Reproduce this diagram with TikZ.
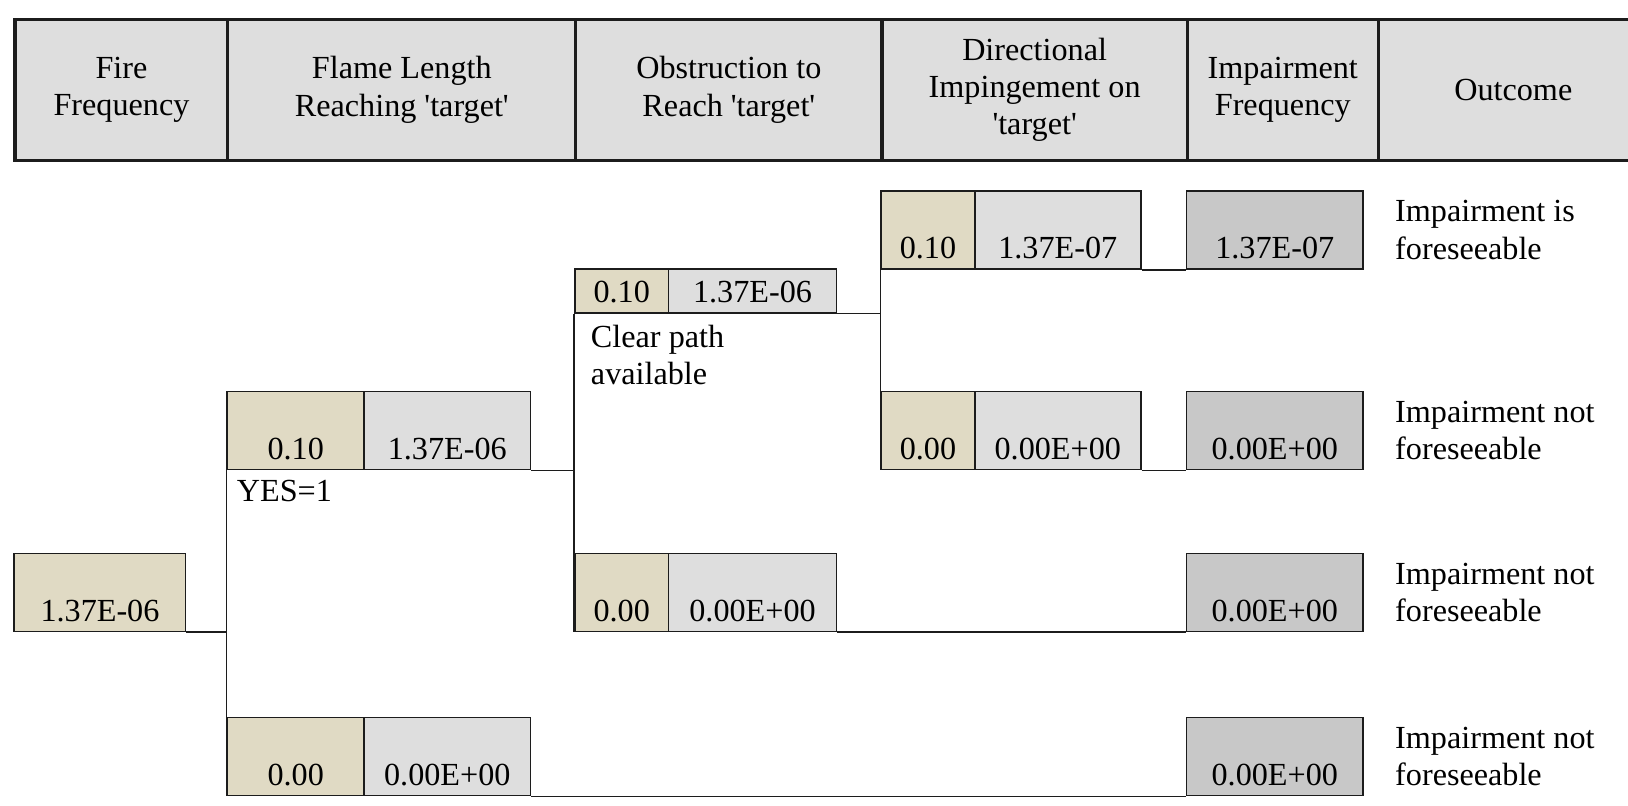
\documentclass[tikz,border=0pt]{standalone}
\usepackage{fontspec}
\setmainfont{Liberation Serif}
\usetikzlibrary{positioning}
\definecolor{tanfill}{HTML}{E0DAC4}
\definecolor{lightfill}{HTML}{DEDEDE}
\definecolor{impfill}{HTML}{C8C8C8}
\definecolor{ink}{HTML}{1C1C1C}
\newcommand{\sq}{\textquotesingle}
\tikzset{
  bigfont/.style={font=\fontsize{31}{36}\selectfont},
  hdr/.style={bigfont, draw=ink, line width=3pt, fill=lightfill, minimum height=136pt, inner sep=0pt, align=center, anchor=north west},
  cell/.style={bigfont, draw=ink, line width=1.6pt, inner sep=0pt, text height=65pt, text depth=10pt, anchor=south west},
  pbox/.style={cell, fill=tanfill, minimum width=90pt},
  fbox/.style={cell, fill=lightfill, minimum width=160pt},
  ibox/.style={cell, fill=impfill, minimum width=170pt},
  lbl/.style={bigfont, inner sep=0pt, align=left, anchor=north west},
  outc/.style={bigfont, inner sep=0pt, align=left},
  branch/.style={draw=ink, line width=1.6pt}
}
\begin{document}
\begin{tikzpicture}[x=1pt,y=-1pt]
\useasboundingbox (0,0) rectangle (1568,776);
% header row
\node[hdr, minimum width=205pt] (h1) at (13,17) {Fire\\Frequency};
\node[hdr, minimum width=335pt] (h2) at (218,17) {Flame Length\\Reaching \sq target\sq};
\node[hdr, minimum width=295pt] (h3) at (553,17) {Obstruction to\\Reach \sq target\sq};
\node[hdr, minimum width=294pt] (h4) at (848,17) {Directional\\Impingement on\\\sq target\sq};
\node[hdr, minimum width=184pt] (h5) at (1142,17) {Impairment\\Frequency};
\node[hdr, minimum width=260pt] (h6) at (1326,17) {Outcome};
% fire frequency
\node[pbox, minimum width=165pt] (fire) at (13,609) {1.37E-06};
% flame length
\node[pbox, minimum width=132pt] (yes) at (218,453) {0.10};
\node[fbox] (yesf) at (350,453) {1.37E-06};
\node[pbox, minimum width=132pt] (no) at (218,767) {0.00};
\node[fbox] (nof) at (350,767) {0.00E+00};
% obstruction
\node[pbox, text height=32pt] (clr) at (553,302) {0.10};
\node[fbox, minimum width=162pt, text height=32pt] (clrf) at (643,302) {1.37E-06};
\node[pbox] (obs) at (553,609) {0.00};
\node[fbox, minimum width=162pt] (obsf) at (643,609) {0.00E+00};
% directional impingement
\node[pbox] (dirt) at (848,260) {0.10};
\node[fbox] (dirtf) at (938,260) {1.37E-07};
\node[pbox] (dirb) at (848,453) {0.00};
\node[fbox] (dirbf) at (938,453) {0.00E+00};
% impairment frequency
\node[ibox] (imp1) at (1142,260) {1.37E-07};
\node[ibox] (imp2) at (1142,453) {0.00E+00};
\node[ibox] (imp3) at (1142,609) {0.00E+00};
\node[ibox] (imp4) at (1142,767) {0.00E+00};
% outcomes
\node[outc, right=30pt of imp1] (out1) {Impairment is\\foreseeable};
\node[outc, right=30pt of imp2] (out2) {Impairment not\\foreseeable};
\node[outc, right=30pt of imp3] (out3) {Impairment not\\foreseeable};
\node[outc, right=30pt of imp4] (out4) {Impairment not\\foreseeable};
% branch labels
\node[lbl] (yeslbl) at ([xshift=10pt,yshift=-9pt]yes.south west) {YES=1};
\node[lbl] (clrlbl) at ([xshift=16pt,yshift=-11pt]clr.south west) {Clear path\\available};
% branches
\draw[branch] (fire.south east) -- (fire.south east -| yes.south west);
\draw[branch] (yes.south west) -- (no.south west);
\draw[branch] (yesf.south east) -- (yesf.south east -| clr.south west);
\draw[branch] (nof.south east) -- (imp4.south west);
\draw[branch] (clr.south west) -- (obs.south west);
\draw[branch] (clrf.south east) -- (clrf.south east -| dirt.south west);
\draw[branch] (obsf.south east) -- (imp3.south west);
\draw[branch] (dirt.south west) -- (dirb.south west);
\draw[branch] (dirtf.south east) -- (imp1.south west);
\draw[branch] (dirbf.south east) -- (imp2.south west);
\end{tikzpicture}
\end{document}
